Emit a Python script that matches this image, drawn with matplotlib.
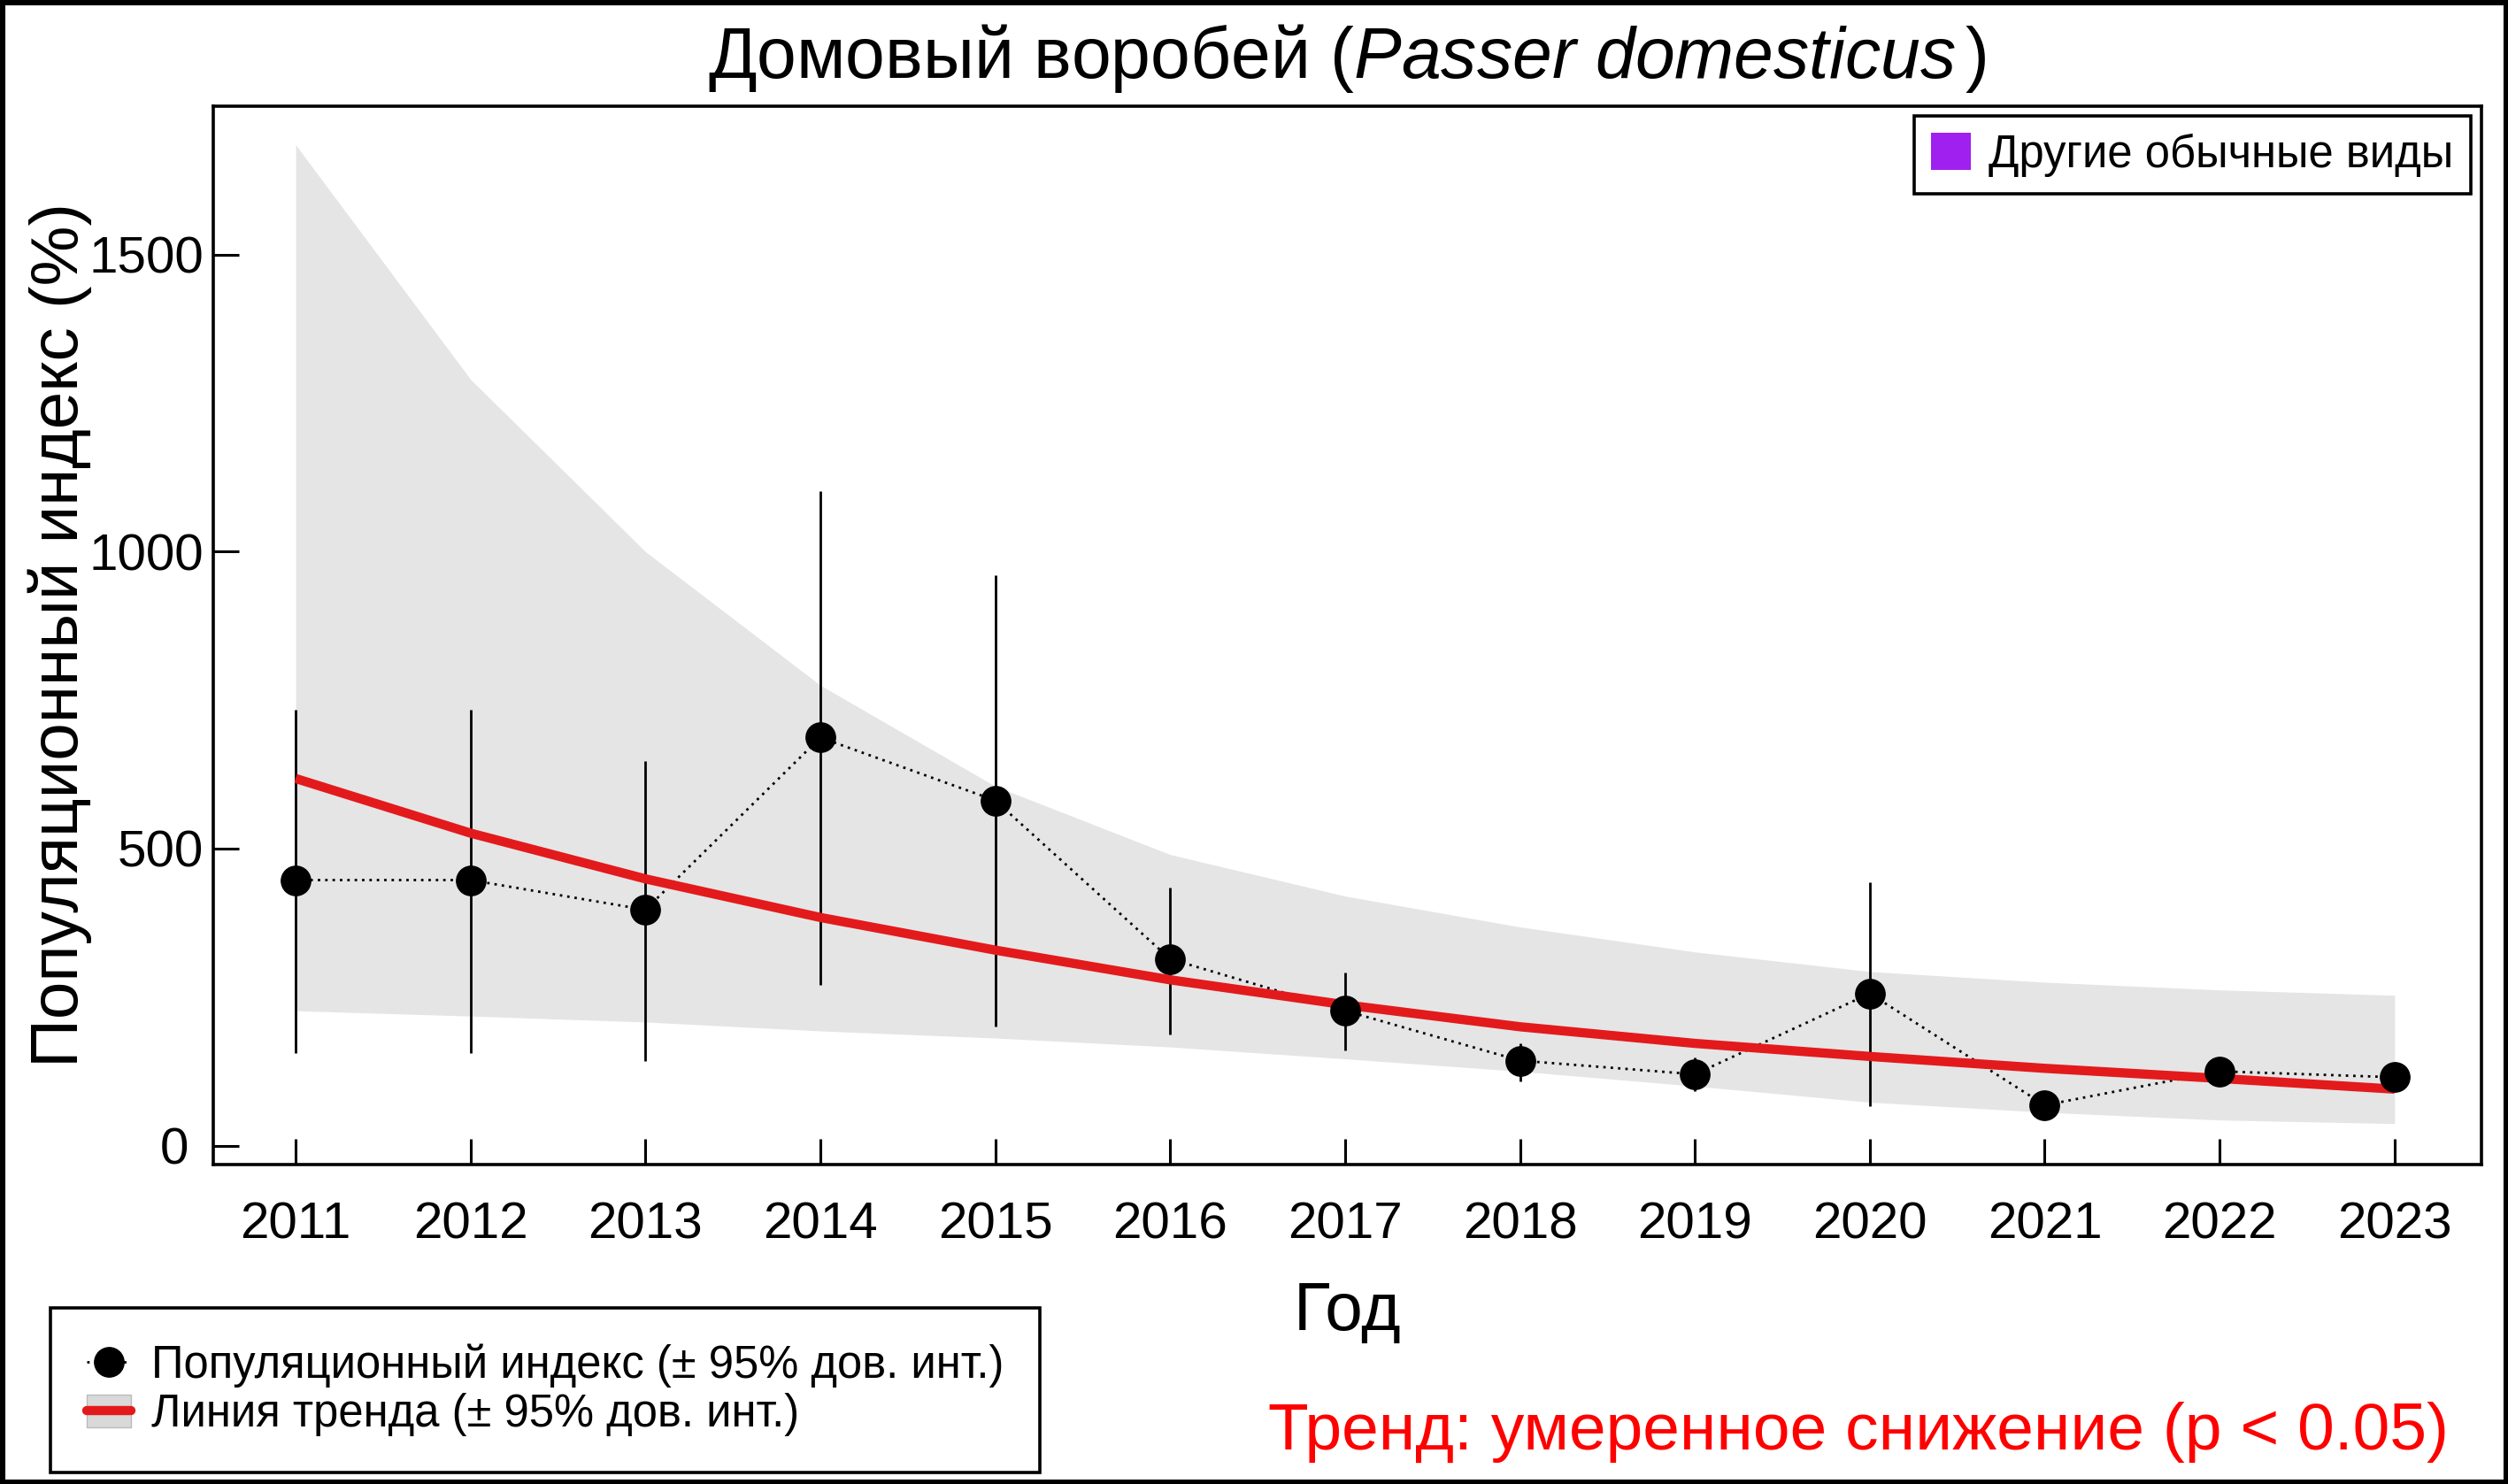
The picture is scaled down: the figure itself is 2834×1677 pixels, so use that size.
import matplotlib
matplotlib.use("Agg")
import matplotlib.pyplot as plt
from matplotlib.lines import Line2D
from matplotlib.patches import Patch, Rectangle

plt.rcParams["font.family"] = ["Liberation Sans", "DejaVu Sans"]
plt.rcParams["mathtext.fontset"] = "custom"
plt.rcParams["mathtext.rm"] = "Liberation Sans"
plt.rcParams["mathtext.it"] = "Liberation Sans:italic"

# ── data ─────────────────────────────────────────────────────────────────────
years = [2011, 2012, 2013, 2014, 2015, 2016, 2017, 2018, 2019, 2020, 2021, 2022, 2023]
index_vals = [447, 447, 397, 687, 581, 314, 227, 143, 120, 256, 68, 125, 115]
index_low = [155, 155, 143, 270, 200, 187, 160, 108, 91, 66, 58, 112, 104]
index_high = [734, 734, 648, 1102, 960, 435, 291, 172, 148, 443, 80, 140, 128]

trend = [618, 526, 449, 384, 329, 279, 237, 200, 172, 150, 130, 113, 95]
trend_low = [227, 218, 208, 193, 181, 166, 146, 125, 100, 73, 56, 43, 37]
trend_high = [1685, 1290, 1000, 775, 605, 490, 420, 368, 326, 293, 275, 262, 253]

y_ticks = [0, 500, 1000, 1500]
y_tick_labels = ["0 ", "500", "1000", "1500"]   # the "0" sits a bit left in the original

title = r"Домовый воробей ($Passer\ domesticus\,$)"
x_label = "Год"
y_label = "Популяционный индекс (%)"
legend_labels = ["Популяционный индекс (± 95% дов. инт.)", "Линия тренда (± 95% дов. инт.)"]
group_label = "Другие обычные виды"
trend_text = "Тренд: умеренное снижение (p < 0.05)"

W, H = 2834, 1677
BAND = "#e5e5e5"
RED = "#e31a1c"
PURPLE = "#a020f0"

fig = plt.figure(figsize=(W / 100, H / 100), dpi=100)
ax = fig.add_axes([241 / W, 1 - 1316 / H, (2804 - 241) / W, (1316 - 120) / H])

# ── marks ────────────────────────────────────────────────────────────────────
ax.fill_between(years, trend_low, trend_high, color=BAND, lw=0, zorder=1)
ax.vlines(years, index_low, index_high, color="black", lw=2, zorder=2)
ax.plot(years, index_vals, color="black", ls=(0, (1, 2)), lw=2, zorder=3)
ax.plot(years, trend, color=RED, lw=7.5, solid_capstyle="butt", zorder=4)
ax.plot(years, index_vals, ls="none", marker="o", ms=24, color="black", zorder=5)

ax.set_xlim(2010.529, 2023.497)
ax.set_ylim(-32, 1750)
ax.set_xticks(years)
ax.set_yticks(y_ticks, labels=y_tick_labels)
ax.tick_params(direction="in", length=21, width=2.2, labelsize=42)
ax.tick_params(axis="x", pad=30)
ax.tick_params(axis="y", pad=8)
for s in ax.spines.values():
    s.set_linewidth(2.6)

ax.set_xlabel(x_label, fontsize=55)
ax.xaxis.label.set_va("baseline")
ax.xaxis.set_label_coords(0.5, -(1503 - 1316) / (1316 - 120))
ax.set_ylabel(y_label, fontsize=55)
ax.yaxis.label.set_va("baseline")
ax.yaxis.set_label_coords(-(241 - 88) / (2804 - 241), 0.5)

fig.text(1522 / W, 1 - 88 / H, title, ha="center", va="baseline", fontsize=58)
fig.text(2767 / W, 1 - 1638 / H, trend_text, ha="right", va="baseline",
         fontsize=54, color="red")

# ── legends ──────────────────────────────────────────────────────────────────
h_index = Line2D([], [], color="black", ls=(0, (1, 2)), lw=2, marker="o", ms=24)
h_trend = (Patch(facecolor="#d9d9d9", edgecolor="#bbbbbb"),
           Line2D([], [], color=RED, lw=7.5, solid_capstyle="round"))
leg = fig.legend([h_index, h_trend], legend_labels, loc="upper left",
                 bbox_to_anchor=(57 / W, 1 - 1478 / H), bbox_transform=fig.transFigure,
                 fontsize=36.5, fancybox=False, framealpha=1, edgecolor="black",
                 borderpad=0.8, handlelength=1.0, handleheight=0.75,
                 handletextpad=0.45, labelspacing=0.12, borderaxespad=0)
leg.get_frame().set_linewidth(2.6)

leg2 = ax.legend([Patch(facecolor=PURPLE)], [group_label], loc="upper right",
                 bbox_to_anchor=(2792 / W, 1 - 131 / H), bbox_transform=fig.transFigure,
                 fontsize=36.5, fancybox=False, framealpha=1, edgecolor="black",
                 borderpad=0.38, handlelength=0.89, handleheight=0.89,
                 handletextpad=0.4, borderaxespad=0)
leg2.get_frame().set_linewidth(2.6)

# outer frame round the whole picture
fig.patches.append(Rectangle((0, 0), 1, 1, transform=fig.transFigure, fill=False,
                             lw=8, ec="black"))

fig.savefig("out.png", dpi=100)
